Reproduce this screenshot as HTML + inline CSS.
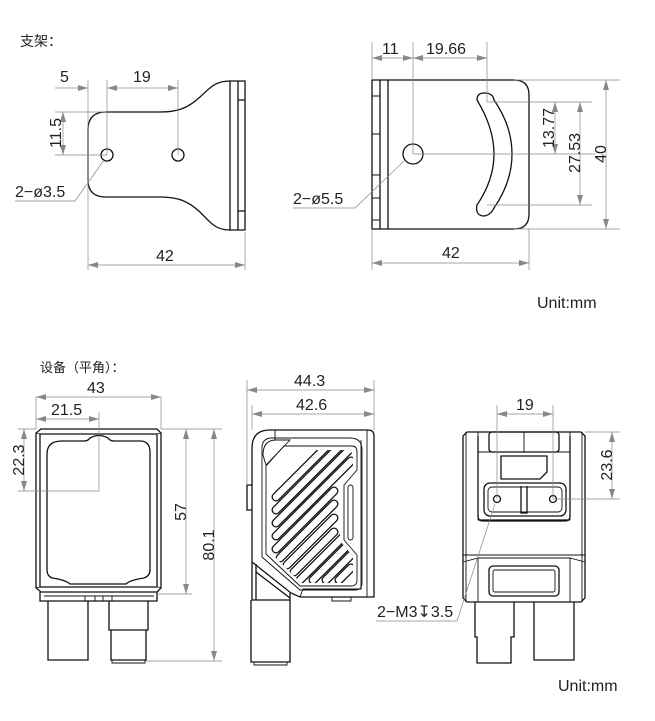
<!DOCTYPE html>
<html><head><meta charset="utf-8"><style>
html,body{margin:0;padding:0;background:#fff;}
svg{display:block;font-family:"Liberation Sans","Noto Sans CJK SC",sans-serif;}
.o{fill:none;stroke:#111;stroke-width:1.3;}
.t{fill:none;stroke:#111;stroke-width:0.9;}
.d{fill:none;stroke:#888;stroke-width:0.7;}
.tx{font-size:16px;fill:#222;}
</style></head><body>
<svg width="655" height="721" viewBox="0 0 655 721" xmlns="http://www.w3.org/2000/svg">
<defs>
<marker id="a" viewBox="0 0 10 6" refX="10" refY="3" markerWidth="10" markerHeight="6" orient="auto-start-reverse" markerUnits="userSpaceOnUse"><path d="M0,0 L10,3 L0,6 z" fill="#888"/></marker>
<clipPath id="gc"><path d="M287,450 L350,450 L353,455 L353,469 L340,484 L340,541 L353,556 L353,583 L301,583 L270,552 L270,467 Z"/></clipPath>
</defs>

<!-- Titles -->
<text x="20" y="46" class="tx" style="font-size:14px">支架：</text>
<text x="40" y="372" class="tx" style="font-size:13px">设备（平角）：</text>
<text x="537" y="308" class="tx" style="font-size:16px">Unit:mm</text>
<text x="558" y="691" class="tx" style="font-size:16px">Unit:mm</text>

<!-- ===== Bracket left view ===== -->
<path class="o" d="M230,81 C215,81 210,88 200,97 C188,108 178,112 160,112 L106,112 Q88,112 88,130 L88,180 Q88,197 106,197 L160,197 C178,197 188,201 200,212 C210,222 215,230 230,230 Z"/>
<path class="o" d="M230,81 L245,81 L245,230 L230,230 M238,81 L238,230 M238,100 L245,100 M238,211 L245,211"/>
<circle class="o" cx="107" cy="155" r="6"/>
<circle class="o" cx="178" cy="155" r="6"/>
<path class="d" d="M88,80 L88,270 M107,80 L107,155 M178,80 L178,155 M245,232 L245,270 M55,112 L106,112 M55,155 L107,155"/>
<path class="d" d="M55,88 L88,88" marker-end="url(#a)"/>
<path class="d" d="M107,88 L178,88" marker-start="url(#a)" marker-end="url(#a)"/>
<path class="d" d="M63,112 L63,155" marker-start="url(#a)" marker-end="url(#a)"/>
<path class="d" d="M88,265 L245,265" marker-start="url(#a)" marker-end="url(#a)"/>
<text x="60" y="82" class="tx">5</text>
<text x="133" y="82" class="tx">19</text>
<text x="55" y="139" class="tx" transform="rotate(-90 55 133)" text-anchor="middle">11.5</text>
<text x="156" y="261" class="tx">42</text>
<text x="15" y="197" class="tx">2−ø3.5</text>
<path class="d" d="M15,201 L75,201 L104,160"/>

<!-- ===== Bracket right view ===== -->
<path class="o" d="M372,80 L514,80 Q529,80 529,95 L529,214 Q529,229 514,229 L372,229 Z"/>
<path class="o" d="M380,80 L380,229 M388,80 L388,229"/>
<path class="t" d="M372,96 L380,96 M372,134 L380,134 M372,175 L380,175 M372,198 L380,198 M372,220 L380,220"/>
<circle class="o" cx="413" cy="154" r="10"/>
<path class="o" d="M477,100 Q477,93 484,93 Q493,93 494,100 Q512,126 512,154 Q512,182 494,208 Q490,216 483,216 Q475,215 477,205 Q494,180 494,154 Q494,128 477,100 Z"/>
<path class="d" d="M372,42 L372,80 M413,42 L413,154 M487,42 L487,102 M413,154 L595,154 M487,102 L592,102 M487,205 L592,205 M514,80 L620,80 M514,229 L620,229 M372,229 L372,270 M529,229 L529,270"/>
<path class="d" d="M372,58 L413,58" marker-start="url(#a)" marker-end="url(#a)"/>
<path class="d" d="M413,58 L487,58" marker-start="url(#a)" marker-end="url(#a)"/>
<path class="d" d="M555,102 L555,154" marker-start="url(#a)" marker-end="url(#a)"/>
<path class="d" d="M580,102 L580,205" marker-start="url(#a)" marker-end="url(#a)"/>
<path class="d" d="M606,80 L606,229" marker-start="url(#a)" marker-end="url(#a)"/>
<path class="d" d="M372,263 L529,263" marker-start="url(#a)" marker-end="url(#a)"/>
<text x="382" y="54" class="tx">11</text>
<text x="426" y="54" class="tx">19.66</text>
<text x="549" y="133" class="tx" transform="rotate(-90 549 128)" text-anchor="middle">13.77</text>
<text x="575" y="158" class="tx" transform="rotate(-90 575 153)" text-anchor="middle">27.53</text>
<text x="601" y="159" class="tx" transform="rotate(-90 601 154)" text-anchor="middle">40</text>
<text x="442" y="258" class="tx">42</text>
<text x="293" y="204" class="tx">2−ø5.5</text>
<path class="d" d="M293,208 L355,208 L404,161"/>

<!-- ===== Device front (lens) view ===== -->
<path class="o" d="M41,429 L157,429 L161,433 L161,588 L157,592 L41,592 L36,588 L36,433 Z"/>
<path class="o" d="M40,434 L157,434 M40,587 L157,587 M40,434 L40,587 M157,434 L157,587"/>
<path class="t" d="M36,433 L40,434 M161,433 L157,434 M36,588 L40,587 M161,588 L157,587"/>
<path class="o" d="M62,441 L84,441 Q88,441 90,438 Q99,433 108,438 Q110,441 114,441 L140,441 Q150,441 150,452 L150,570 Q150,576 144,578 Q130,580 126,584 L70,584 Q66,580 52,578 Q47,576 47,570 L47,454 Q47,441 62,441 Z"/>
<path class="o" d="M40,592 L40,601 L157,601 L157,592"/>
<path class="t" d="M44,596 L154,596 M85,596 L85,601 M95,596 L95,601 M103,596 L103,601 M112,596 L112,601"/>
<path class="o" d="M48,601 L48,660 L88,660 L88,601 M109,601 L109,630 L148,630 L148,601 M111,630 L111,660 L146,660 L146,630"/>
<path class="t" d="M112,660 L112,663 L145,663 L145,660"/>
<path class="d" d="M36,397 L36,429 M161,397 L161,429 M99,412 L99,491 M18,491 L99,491 M18,429 L36,429 M161,429 L222,429 M157,594 L192,594 M146,661 L222,661"/>
<path class="d" d="M36,397 L161,397" marker-start="url(#a)" marker-end="url(#a)"/>
<path class="d" d="M36,419 L99,419" marker-start="url(#a)" marker-end="url(#a)"/>
<path class="d" d="M24,429 L24,491" marker-start="url(#a)" marker-end="url(#a)"/>
<path class="d" d="M186,429 L186,594" marker-start="url(#a)" marker-end="url(#a)"/>
<path class="d" d="M214,429 L214,661" marker-start="url(#a)" marker-end="url(#a)"/>
<text x="87" y="393" class="tx">43</text>
<text x="51" y="415" class="tx">21.5</text>
<text x="18" y="466" class="tx" transform="rotate(-90 18 460)" text-anchor="middle">22.3</text>
<text x="180" y="518" class="tx" transform="rotate(-90 180 512)" text-anchor="middle">57</text>
<text x="208" y="551" class="tx" transform="rotate(-90 208 545)" text-anchor="middle">80.1</text>

<!-- ===== Device side view ===== -->
<path class="o" d="M270,430 L368,430 Q374,430 374,436 L374,597 L300,597 L291,593 L252,562 L252,448 Q252,430 270,430 Z"/>
<path class="t" d="M367,430 L367,597 M361,440 L361,590 M275,430 L275,440 M300,597 L303,589 L360,589"/>
<path class="t" d="M262,448 Q262,438 272,438 L350,438 Q362,438 362,450 L362,583 Q362,590 355,590 L300,590 L262,557 Z"/>
<path class="t" d="M263,455 Q263,440 276,440 L290,440 L266,465 Z"/>
<g clip-path="url(#gc)" fill="none" stroke-linecap="round">
<g stroke="#111" stroke-width="9">
<path d="M276,497 L325,448 M276,510 L338,448 M276,523 L351,448 M276,536 L351,461 M276,549 L334,491 M280,558 L334,504 M287,565 L334,518 M294,572 L334,532 M300,580 L351,529 M313,580 L351,542 M326,580 L351,555 M339,580 L351,568"/>
</g>
<g stroke="#fff" stroke-width="6.4">
<path d="M276,497 L325,448 M276,510 L338,448 M276,523 L351,448 M276,536 L351,461 M276,549 L334,491 M280,558 L334,504 M287,565 L334,518 M294,572 L334,532 M300,580 L351,529 M313,580 L351,542 M326,580 L351,555 M339,580 L351,568"/>
</g>
</g>
<path class="t" d="M284,446 L352,446 Q357,446 357,452 L357,470 L344,485 L344,540 L357,555 L357,580 Q357,586 351,586 L300,586 L266,554 L266,466 Z"/>
<rect class="t" x="348" y="485" width="5" height="55" rx="2.5"/>
<path class="o" d="M252,485 L247,485 L247,510 L252,510"/>
<path class="o" d="M252,562 L252,600 L290,600 L290,593 M256,564 L256,600 M256,572 L290,598"/>
<path class="o" d="M251,600 L251,662 L290,662 L290,600"/>
<path class="t" d="M254,662 L254,665 L287,665 L287,662 M332,597 L332,601 L351,601 L351,597"/>
<path class="d" d="M247,380 L247,485 M252,405 L252,430 M374,380 L374,430"/>
<path class="d" d="M247,390 L374,390" marker-start="url(#a)" marker-end="url(#a)"/>
<path class="d" d="M252,414 L374,414" marker-start="url(#a)" marker-end="url(#a)"/>
<text x="294" y="386" class="tx">44.3</text>
<text x="296" y="410" class="tx">42.6</text>

<!-- ===== Device back view ===== -->
<path class="o" d="M467,432 L581,432 L585,436 L585,598 L581,602 L467,602 L463,598 L463,436 Z"/>
<path class="t" d="M466,432 L466,602 M582,432 L582,602 M478,432 L478,520 M570,432 L570,520 M463,555 L585,555 M463,562 L478,558 L570,558 L585,562 M478,558 L478,602 M570,558 L570,602"/>
<path class="o" d="M478,520 L570,520 M478,436 L478,516 Q478,521 483,521 L565,521 Q570,521 570,516 L570,436"/>
<rect class="o" x="489" y="432" width="70" height="20" rx="3"/>
<path class="t" d="M524,432 L524,452 M478,452 L570,452"/>
<path class="o" d="M501,456 L547,456 L547,472 L540,479 L501,479 Z"/>
<rect class="o" x="484" y="483" width="82" height="33" rx="6"/>
<rect class="t" x="488" y="487" width="74" height="25" rx="4"/>
<path class="o" d="M521,486 L521,513 L527,513 L527,486"/>
<circle class="o" cx="497" cy="499" r="3.5"/>
<circle class="o" cx="553" cy="499" r="3.5"/>
<rect class="o" x="489" y="566" width="70" height="30" rx="4"/>
<rect class="t" x="493" y="570" width="62" height="22" rx="2"/>
<path class="o" d="M475,602 L475,637 L477,637 L477,663 L511,663 L511,637 L514,637 L514,602 M534,602 L534,660 L574,660 L574,602"/>
<path class="d" d="M497,405 L497,499 M553,405 L553,499 M553,499 L620,499 M585,432 L620,432"/>
<path class="d" d="M497,414 L553,414" marker-start="url(#a)" marker-end="url(#a)"/>
<path class="d" d="M612,432 L612,499" marker-start="url(#a)" marker-end="url(#a)"/>
<text x="516" y="410" class="tx">19</text>
<text x="606" y="471" class="tx" transform="rotate(-90 606 465)" text-anchor="middle">23.6</text>
<text x="377" y="617" class="tx">2−M3↧3.5</text>
<path class="d" d="M376,621 L457,621 L495,504"/>
</svg>
</body></html>
